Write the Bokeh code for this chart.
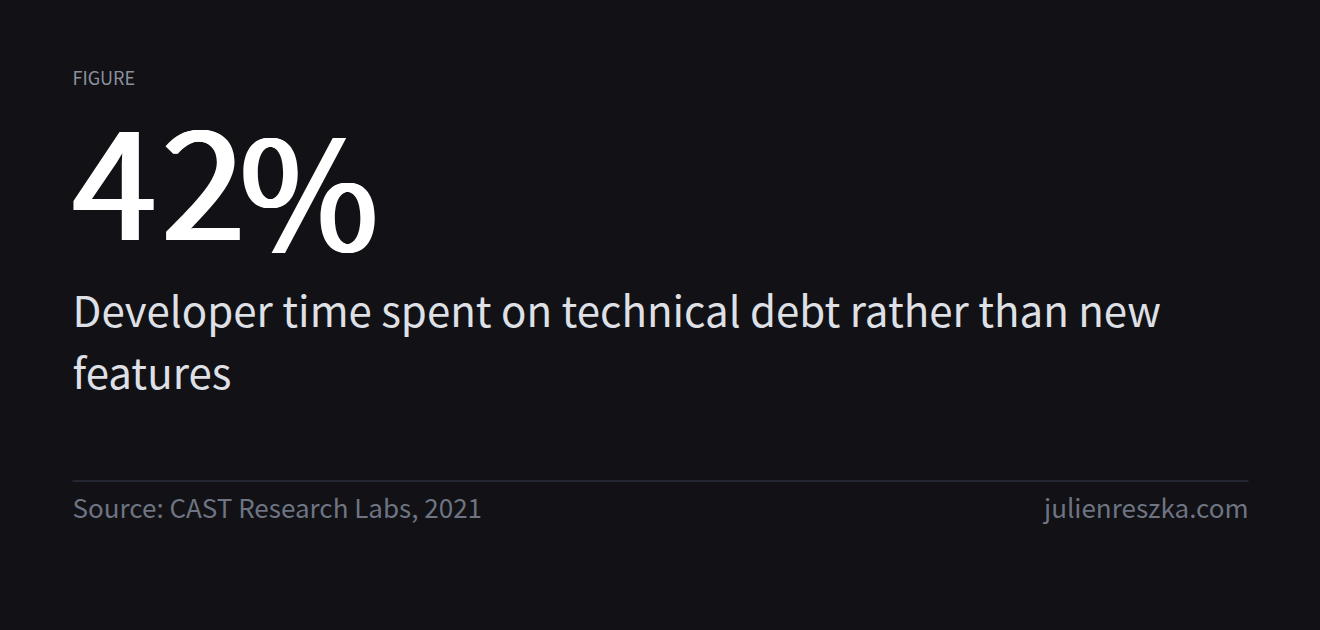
from bokeh.plotting import figure
from bokeh.models import Range1d
from bokeh.core.properties import value
from bokeh.embed import file_html
from bokeh.resources import INLINE

# ---- content ----
kicker = ["FIGURE"]
stat_value = "42%"
stat_label_lines = ["Developer time spent on technical debt rather than new", "features"]
source_text = ["Source: CAST Research Labs, 2021"]
site_text = ["julienreszka.com"]

W, H = 1304, 614
BG = "#111116"
FONT = "Noto Sans CJK KR"

p = figure(width=W, height=H, output_backend="svg", toolbar_location=None,
           x_range=Range1d(0, W), y_range=Range1d(H, 0), min_border=0)
p.axis.visible = False
p.grid.visible = False
p.outline_line_color = None
p.background_fill_color = BG
p.border_fill_color = BG

p.text(x=[72], y=[76.5], text=kicker, text_font=value(FONT),
       text_font_size="18px", text_color="#8b909c", text_baseline="alphabetic")

# big stat: tight tracking (set glyph by glyph), medium weight
chars = list(stat_value)
char_x = [70, 159, 237]
for dx in (0, 1, 2, 3, 4):
    p.text(x=[cx + dx for cx in char_x], y=[184] * len(chars), text=chars,
           text_font=value(FONT), text_font_size="151px", text_color="#ffffff",
           text_baseline="alphabetic")

p.text(x=[72, 72], y=[308, 370], text=stat_label_lines,
       text_font=value(FONT), text_font_size="42px", text_color="#dfe0e6",
       text_baseline="alphabetic")

p.segment(x0=[72], y0=[480.5], x1=[1248], y1=[480.5],
          line_color="#363c4a", line_width=1)

p.text(x=[72], y=[506], text=source_text, text_font=value(FONT),
       text_font_size="26px", text_color="#6e7482", text_baseline="alphabetic")
p.text(x=[1248], y=[506], text=site_text, text_font=value(FONT),
       text_font_size="26px", text_color="#6e7482", text_baseline="alphabetic",
       text_align="right")

tmpl = "{% block preamble %}<style>html, body { background: " + BG + "; }</style>{% endblock %}"
open("out.html", "w").write(file_html(p, INLINE, template=tmpl))
